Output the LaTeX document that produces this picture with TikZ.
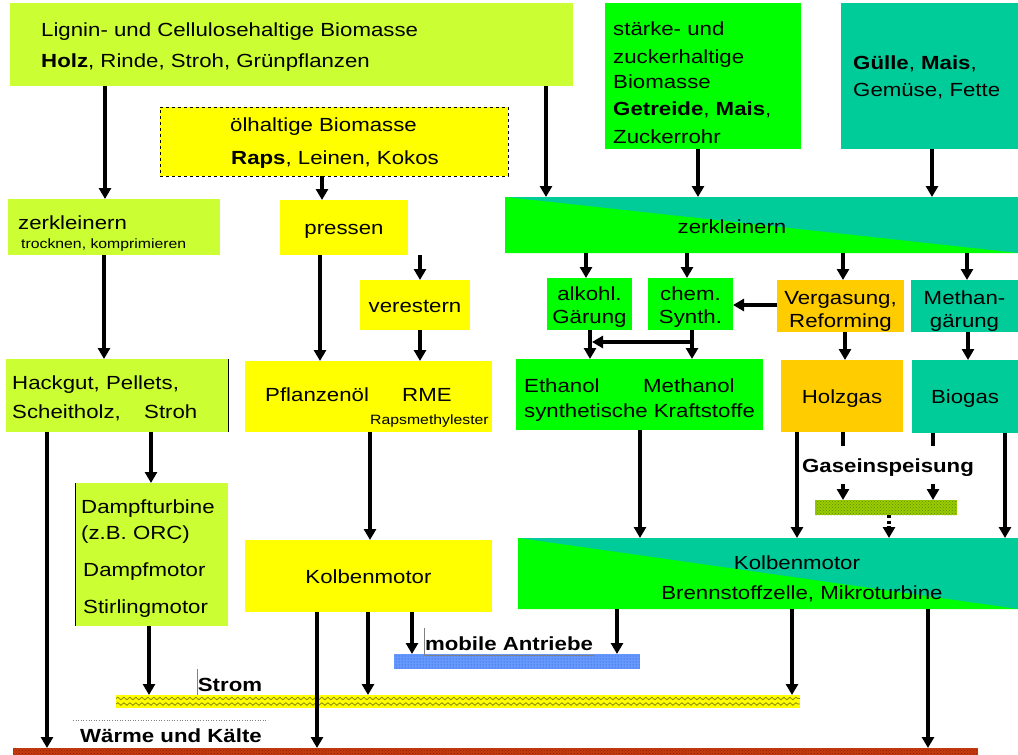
\documentclass[tikz,border=0pt]{standalone}
\usepackage{fontspec}
\setmainfont{Liberation Sans}[FakeStretch=1.17]
\usetikzlibrary{arrows.meta,patterns,decorations.pathmorphing}
\definecolor{lime}{HTML}{CCFF33}
\definecolor{yel}{HTML}{FFFF00}
\definecolor{grn}{HTML}{00FF00}
\definecolor{teal2}{HTML}{00CC99}
\definecolor{orng}{HTML}{FFCC00}
\definecolor{gasgrn}{HTML}{99CC00}
\definecolor{gasdark}{HTML}{5E8A00}
\definecolor{blu}{HTML}{6699FF}
\definecolor{bludark}{HTML}{2A4FB0}
\definecolor{brick}{HTML}{C83A10}
\definecolor{brickdark}{HTML}{802000}
\definecolor{wave}{HTML}{8A8A00}
\newcommand\fm{\fontsize{19}{24}\selectfont}
\newcommand\fs{\fontsize{13.5}{16}\selectfont}
\begin{document}
\begin{tikzpicture}[x=1pt,y=-1pt,
  box/.style={rectangle, inner sep=0pt, outer sep=0pt, anchor=north west, font=\fm, align=center},
  one/.style={text height=14pt, text depth=0pt},
  txt/.style={anchor=west, inner sep=0pt, text height=14pt, text depth=0pt, font=\fm},
  ctxt/.style={inner sep=0pt, text height=14pt, text depth=0pt, font=\fm},
  lbl/.style={inner sep=0pt, text height=14pt, text depth=0pt, font=\fm\bfseries},
  arr/.style={line width=3.2pt, -{Triangle[width=12pt,length=11pt]}},
  thinl/.style={gray, line width=0.6pt},
  tri/.style={path picture={\fill[grn] (path picture bounding box.north west) -- (path picture bounding box.south east) -- (path picture bounding box.south west) -- cycle;}}
]
\useasboundingbox (0,0) rectangle (1018,755);
\fill[white] (0,0) rectangle (1018,755);

% ---------- boxes ----------
\node[box, fill=lime, minimum width=563pt, minimum height=83pt] (lignin) at (10,3) {};
\node[box, fill=yel, minimum width=348pt, minimum height=69pt, draw=black, dashed, line width=0.6pt] (oel) at (160,107) {};
\node[box, fill=grn, minimum width=196pt, minimum height=146pt] (staerke) at (605,3) {};
\node[box, fill=teal2, minimum width=177pt, minimum height=146pt] (guelle) at (841,3) {};
\node[box, fill=lime, minimum width=212pt, minimum height=56pt] (zl) at (8,199) {};
\node[box, one, fill=yel, minimum width=128pt, minimum height=55pt] (pressen) at (280,200) {pressen};
\node[box, fill=teal2, tri, minimum width=513pt, minimum height=56pt] (zb) at (505,197) {};
\node[box, one, fill=yel, minimum width=110pt, minimum height=50pt] (ver) at (360,280) {verestern};
\node[box, fill=grn, minimum width=85pt, minimum height=52pt] (alk) at (547,278) {};
\node[box, fill=grn, minimum width=85pt, minimum height=52pt] (chem) at (648,278) {};
\node[box, fill=orng, minimum width=127pt, minimum height=52pt] (verg) at (777,280) {};
\node[box, fill=teal2, minimum width=107pt, minimum height=52pt] (meth) at (911,280) {};
\node[box, fill=lime, minimum width=222pt, minimum height=73pt] (hack) at (6,359) {};
\node[box, fill=yel, minimum width=247pt, minimum height=71pt] (pfl) at (245,361) {};
\node[box, fill=grn, minimum width=247pt, minimum height=71pt] (eth) at (516,359) {};
\node[box, one, fill=orng, minimum width=122pt, minimum height=72pt] (holz) at (781,360) {Holzgas};
\node[box, one, fill=teal2, minimum width=106pt, minimum height=73pt] (bio) at (912,360) {Biogas};
\node[box, fill=lime, minimum width=153pt, minimum height=143pt] (damp) at (75,483) {};
\node[box, one, fill=yel, minimum width=247pt, minimum height=72pt] (kolbY) at (245,540) {Kolbenmotor};
\node[box, fill=teal2, tri, minimum width=500pt, minimum height=71pt] (kolbG) at (518,538) {};

% thin borders
\draw[black, line width=0.6pt] (hack.north east) -- (hack.south east);
\draw[black, line width=0.6pt] (damp.north west) -- (damp.south west);

% ---------- bars ----------
\node[box, preaction={fill=gasgrn}, pattern=crosshatch dots, pattern color=gasdark, minimum width=142pt, minimum height=15pt] (gasbar) at (815,500) {};
\node[box, preaction={fill=blu}, pattern=dots, pattern color=bludark, minimum width=246pt, minimum height=15pt] (mobbar) at (394,654) {};
\node[box, fill=yel, minimum width=684pt, minimum height=13pt] (strombar) at (116,695) {};
\begin{scope}
\clip (strombar.north west) rectangle (strombar.south east);
\draw[wave, line width=0.8pt, decorate, decoration={snake, amplitude=1.3pt, segment length=6pt}] ([yshift=-3.5pt]strombar.north west) -- ([yshift=-3.5pt]strombar.north east);
\draw[wave, line width=0.8pt, decorate, decoration={snake, amplitude=1.3pt, segment length=6pt}] ([yshift=-9pt]strombar.north west) -- ([yshift=-9pt]strombar.north east);
\end{scope}
\node[box, preaction={fill=brick}, pattern=crosshatch dots, pattern color=brickdark, minimum width=965pt, minimum height=7pt] (waermebar) at (13,748) {};

% ---------- texts ----------
\node[txt] (t1) at (41,29) {Lignin- und Cellulosehaltige Biomasse};
\node[txt] (t2) at (41,60) {\textbf{Holz}, Rinde, Stroh, Grünpflanzen};
\node[txt] (t3) at (230,124) {ölhaltige Biomasse};
\node[txt] (t4) at (231,157) {\textbf{Raps}, Leinen, Kokos};
\node[txt] (t5) at (613,28) {stärke- und};
\node[txt] (t6) at (613,56) {zuckerhaltige};
\node[txt] (t7) at (613,81) {Biomasse};
\node[txt] (t8) at (613,108) {\textbf{Getreide}, \textbf{Mais},};
\node[txt] (t9) at (613,136) {Zuckerrohr};
\node[txt] (t10) at (853,62) {\textbf{Gülle}, \textbf{Mais},};
\node[txt] (t11) at (853,89) {Gemüse, Fette};
\node[txt] (t12) at (18,222) {zerkleinern};
\node[txt, font=\fs, text height=10pt] (t13) at (21,243) {trocknen, komprimieren};
\node[ctxt] (t14) at (732,226) {zerkleinern};
\node[ctxt] (ta1) at (589.5,293) {alkohl.};
\node[ctxt] (ta2) at (589.5,316) {Gärung};
\node[ctxt] (tc1) at (690.5,293) {chem.};
\node[ctxt] (tc2) at (690.5,316) {Synth.};
\node[ctxt] (tv1) at (840.5,297) {Vergasung,};
\node[ctxt] (tv2) at (840.5,320) {Reforming};
\node[ctxt] (tm1) at (964.5,297) {Methan-};
\node[ctxt] (tm2) at (964.5,320) {gärung};
\node[txt] (t15) at (12,382) {Hackgut, Pellets,};
\node[txt] (t16) at (12,411) {Scheitholz,};
\node[txt] (t17) at (144,411) {Stroh};
\node[txt] (t18) at (265,394) {Pflanzenöl};
\node[txt] (t19) at (402,394) {RME};
\node[txt, font=\fs, text height=10pt] (t20) at (370,419) {Rapsmethylester};
\node[txt] (t21) at (524,385) {Ethanol};
\node[txt] (t22) at (643,385) {Methanol};
\node[txt] (t23) at (524,410) {synthetische Kraftstoffe};
\node[txt] (t24) at (81,506) {Dampfturbine};
\node[txt] (t25) at (81,532) {(z.B. ORC)};
\node[txt] (t26) at (83,569) {Dampfmotor};
\node[txt] (t27) at (83,606) {Stirlingmotor};
\node[ctxt] (t28) at (797,562) {Kolbenmotor};
\node[ctxt] (t29) at (802,592) {Brennstoffzelle, Mikroturbine};

% ---------- x positions ----------
\foreach \xx in {47,104,105,149,151,317,320,322,368,370,412,420,546,586,590,617,640,687,692,698,792,797,843,845,889,928,932,933,967,968,1005}
  \coordinate (x\xx) at (\xx,0);
\coordinate (y305) at (0,305);
\coordinate (brA) at (692,342);
\coordinate (brB) at (592,342);

% ---------- arrows ----------
\draw[arr] (lignin.south -| x105) -- (zl.north -| x105);
\draw[arr] (lignin.south -| x546) -- (zb.north -| x546);
\draw[arr] (oel.south -| x322) -- (pressen.north -| x322);
\draw[arr] (staerke.south -| x698) -- (zb.north -| x698);
\draw[arr] (guelle.south -| x932) -- (zb.north -| x932);
\draw[arr] (zl.south -| x104) -- (hack.north -| x104);
\draw[arr] (pressen.south -| x320) -- (pfl.north -| x320);
\draw[arr] (pressen.south -| x420) -- (ver.north -| x420);
\draw[arr] (ver.south -| x420) -- (pfl.north -| x420);
\draw[arr] (zb.south -| x586) -- (alk.north -| x586);
\draw[arr] (zb.south -| x687) -- (chem.north -| x687);
\draw[arr] (zb.south -| x843) -- (verg.north -| x843);
\draw[arr] (zb.south -| x967) -- (meth.north -| x967);
\draw[arr] (verg.west |- y305) -- (chem.east |- y305);
\draw[arr] (alk.south -| x590) -- (eth.north -| x590);
\draw[arr] (chem.south -| x692) -- (eth.north -| x692);
\draw[arr] (brA) -- (brB);
\draw[arr] (verg.south -| x845) -- (holz.north -| x845);
\draw[arr] (meth.south -| x968) -- (bio.north -| x968);
\draw[arr] (hack.south -| x151) -- (damp.north -| x151);
\draw[arr] (hack.south -| x47) -- (waermebar.north -| x47);
\draw[arr] (damp.south -| x149) -- (strombar.north -| x149);
\draw[arr] (pfl.south -| x370) -- (kolbY.north -| x370);
\draw[arr] (eth.south -| x640) -- (kolbG.north -| x640);
\draw[arr] (holz.south -| x797) -- (kolbG.north -| x797);
\draw[arr] (bio.south -| x1005) -- (kolbG.north -| x1005);
\draw[arr] (holz.south -| x843) -- (gasbar.north -| x843);
\draw[arr] (bio.south -| x933) -- (gasbar.north -| x933);
\draw[arr, dash pattern=on 3pt off 2.5pt] (gasbar.south -| x889) -- (kolbG.north -| x889);
\draw[arr] (kolbY.south -| x317) -- (waermebar.north -| x317);
\draw[arr] (kolbY.south -| x368) -- (strombar.north -| x368);
\draw[arr] (kolbY.south -| x412) -- (mobbar.north -| x412);
\draw[arr] (kolbG.south -| x617) -- (mobbar.north -| x617);
\draw[arr] (kolbG.south -| x792) -- (strombar.north -| x792);
\draw[arr] (kolbG.south -| x928) -- (waermebar.north -| x928);

% ---------- labels ----------
\node[lbl, fill=white, inner xsep=1pt, inner ysep=12pt] (gas) at (888,465) {Gaseinspeisung};
\node[lbl] (mob) at (509,643) {mobile Antriebe};
\node[lbl] (strom) at (230,684) {Strom};
\node[lbl] (waerme) at (171,735) {Wärme und Kälte};
\draw[thinl] (424,628) -- (424,655) -- (594,655);
\draw[thinl] (197,669) -- (197,695);
\draw[thinl, dotted] (73,720) -- (268,720);
\end{tikzpicture}
\end{document}
